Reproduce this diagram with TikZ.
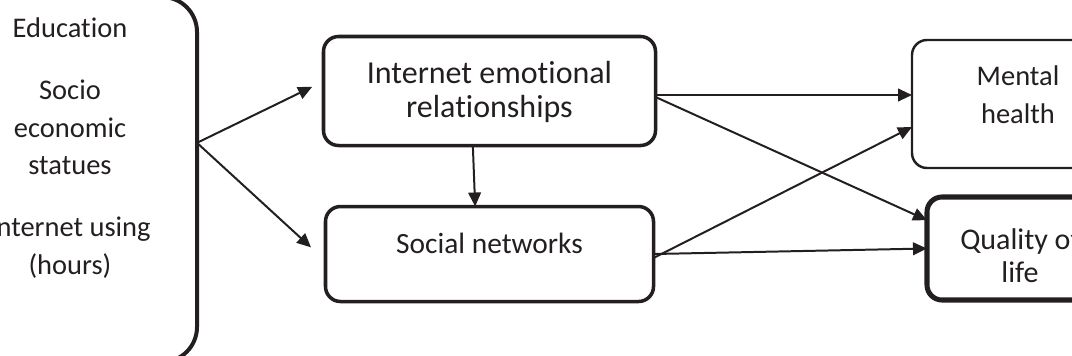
\documentclass[tikz,border=0pt]{standalone}
\usepackage{fontspec}
\setmainfont{Carlito}[Ligatures=NoCommon]
\usetikzlibrary{arrows.meta,positioning}
\definecolor{ink}{RGB}{35,31,32}

\begin{document}
\begin{tikzpicture}[x=0.03cm,y=-0.03cm,node distance=1.83cm,>={Triangle[length=0.42cm,width=0.38cm]}, every node/.style={text=ink}]
\tikzstyle{box}=[draw=ink,rounded corners=0.45cm,align=center,inner sep=0pt,outer sep=0pt,line width=3pt]
\tikzstyle{arr}=[->,draw=ink,line width=1.7pt]
\useasboundingbox (0,0) rectangle (1072,355);
\clip (0,0) rectangle (1072,355);
% covariates
\node[box,rounded corners=1.05cm,line width=3.4pt,minimum width=7.62cm,minimum height=10.95cm] (inputs) at (70,179.5) {};
\node[anchor=base,align=center,font=\fontsize{24.3pt}{32pt}\selectfont] (covars) at (70,274) {Education\\[0.735cm]Socio\\economic\\statues\\[0.735cm]Internet using\\(hours)};
% mediators
\node[box,minimum width=9.96cm,minimum height=3.27cm,font=\fontsize{27.3pt}{29pt}\selectfont,text height=1.86cm,text depth=0.3cm] (ier) at (489.5,91) {Internet emotional\\relationships};
\node[box,below=of ier,minimum width=9.84cm,minimum height=2.85cm,font=\fontsize{25.1pt}{30pt}\selectfont,text height=0.6cm,text depth=0.66cm] (sn) {Social networks};
% outcomes
\node[box,line width=2.1pt,minimum width=6.36cm,minimum height=3.84cm,font=\fontsize{24.3pt}{32.4pt}\selectfont,text height=1.44cm,text depth=0.3cm] (mh) at (1018,104) {Mental\\health};
\node[box,line width=4.3pt,minimum width=5.58cm,minimum height=3.09cm,font=\fontsize{25.6pt}{28pt}\selectfont,text height=2.31cm,text depth=0.3cm] (qol) at (1020,248.5) {Quality of\\life};
% links
\coordinate (fork) at ([yshift=1.1cm]inputs.east);
\coordinate (ierout) at ([yshift=-0.12cm]ier.east);
\draw[arr,shorten >=0.38cm] (fork) -- ([yshift=0.29cm]ier.west);
\draw[arr,shorten >=0.59cm] (fork) -- ([yshift=-0.2cm]sn.west);
\draw[arr] ([xshift=-0.5cm]ier.south) -- ([xshift=-0.43cm]sn.north);
\draw[arr] (ierout) -- (ierout -| mh.west);
\draw[arr] ([yshift=-0.18cm]ier.east) -- ([yshift=0.85cm]qol.west);
\draw[arr] ([yshift=-0.12cm]sn.east) -- ([yshift=-0.69cm]mh.west);
\draw[arr] (sn.east) -- (qol.west);
\end{tikzpicture}
\end{document}
